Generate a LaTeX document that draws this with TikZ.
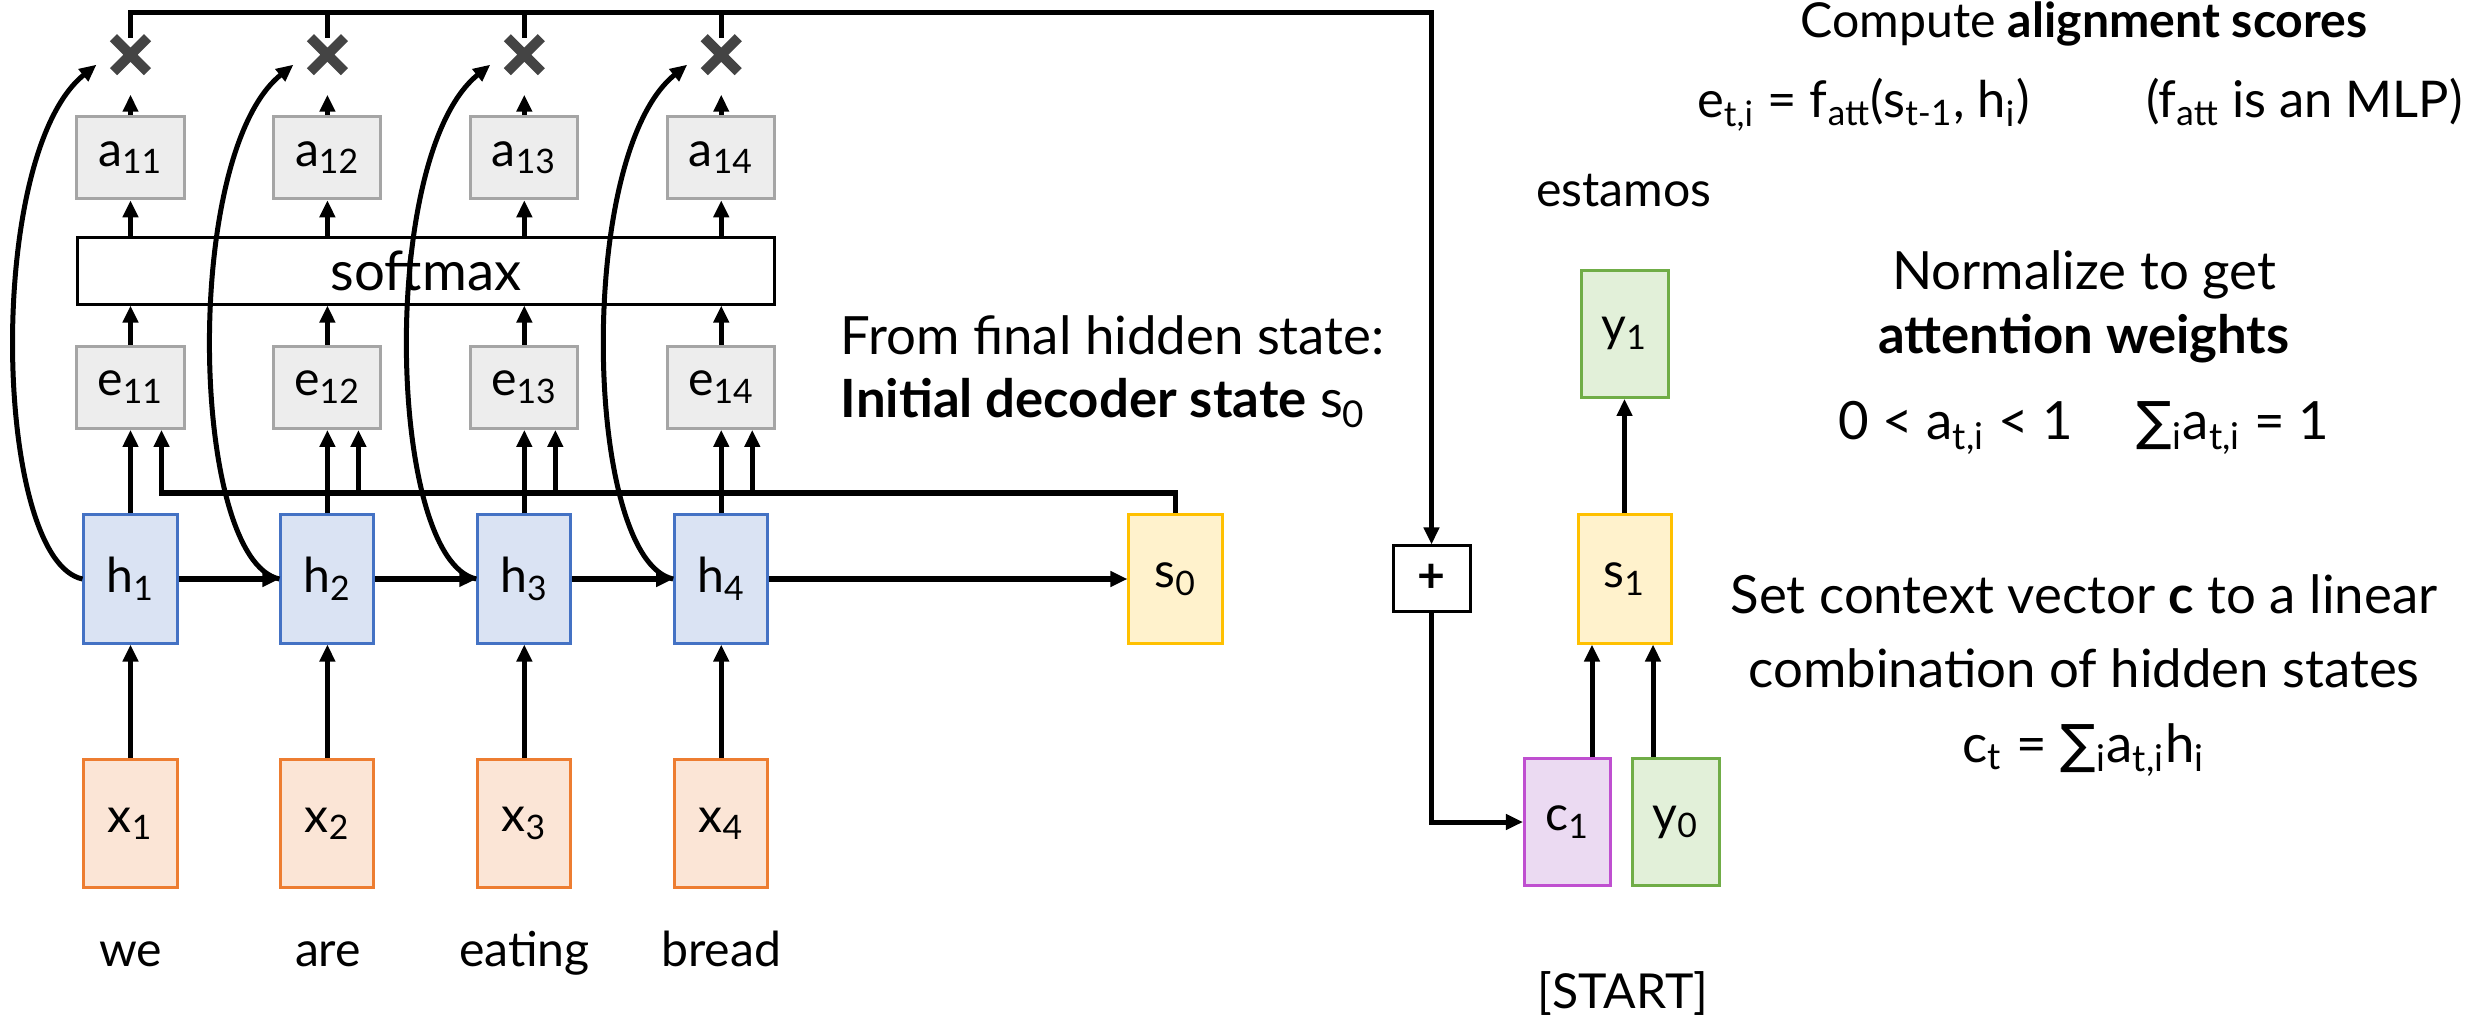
\documentclass[tikz,border=0pt]{standalone}
\usepackage{fontspec}
\setmainfont{Lato}
\newfontfamily\sumfont{DejaVu Sans}
\usetikzlibrary{shapes,arrows,arrows.meta}
\definecolor{hblue}{HTML}{4472C4}
\definecolor{hfill}{HTML}{DAE3F3}
\definecolor{xorange}{HTML}{ED7D31}
\definecolor{xfill}{HTML}{FBE5D6}
\definecolor{egray}{HTML}{A5A5A5}
\definecolor{efill}{HTML}{EDEDED}
\definecolor{syellow}{HTML}{FFC000}
\definecolor{sfill}{HTML}{FFF2CC}
\definecolor{ygreen}{HTML}{70AD47}
\definecolor{yfill}{HTML}{E2F0D9}
\definecolor{cpurple}{HTML}{BF4FD0}
\definecolor{cfill}{HTML}{EBDAF2}
\definecolor{xgray}{HTML}{444444}
\newcommand{\bigtxt}{\fontsize{15}{18}\selectfont}
\tikzstyle{cell} = [rectangle, draw, line width=0.3mm, inner sep=0pt,
    minimum width=0.93cm, minimum height=1.28cm]
\tikzstyle{hcell} = [cell, draw=hblue, fill=hfill]
\tikzstyle{xcell} = [cell, draw=xorange, fill=xfill]
\tikzstyle{ecell} = [cell, draw=egray, fill=efill, minimum width=1.07cm, minimum height=0.82cm]
\tikzstyle{scell} = [cell, draw=syellow, fill=sfill]
\tikzstyle{ycell} = [cell, draw=ygreen, fill=yfill, minimum width=0.87cm, minimum height=1.27cm]
\tikzstyle{ccell} = [cell, draw=cpurple, fill=cfill, minimum width=0.86cm, minimum height=1.26cm]
\tikzstyle{pluscell} = [rectangle, draw, line width=0.3mm, fill=white,
    minimum width=0.77cm, minimum height=0.65cm]
\tikzstyle{mult} = [cross out, draw=xgray, line width=1mm, minimum size=2.4mm, inner sep=0pt]
\tikzstyle{word} = [anchor=base, inner sep=0pt]
\tikzstyle{note} = [word, font=\bigtxt]
\tikzstyle{line} = [draw, line width=0.5mm, -{Triangle[length=1.7mm, width=1.5mm]}]
\tikzstyle{wire} = [draw, line width=0.5mm]

\begin{document}
\begin{tikzpicture}[x=0.01cm, y=-0.01cm, node distance=1.968cm,
    font=\fontsize{13.7}{16}\selectfont]
    \useasboundingbox (0,0) rectangle (2486,1025);
    % Place nodes
    \node [hcell] (h1) at (130.5,579) {h\textsubscript{1}};
    \node [hcell, right of=h1] (h2) {h\textsubscript{2}};
    \node [hcell, right of=h2] (h3) {h\textsubscript{3}};
    \node [hcell, right of=h3] (h4) {h\textsubscript{4}};
    \node [xcell, below of=h1, node distance=2.445cm] (x1) {x\textsubscript{1}};
    \node [xcell, below of=h2, node distance=2.445cm] (x2) {x\textsubscript{2}};
    \node [xcell, below of=h3, node distance=2.445cm] (x3) {x\textsubscript{3}};
    \node [xcell, below of=h4, node distance=2.445cm] (x4) {x\textsubscript{4}};
    \node [ecell, above of=h1, node distance=1.915cm] (e11) {e\textsubscript{11}};
    \node [ecell, above of=h2, node distance=1.915cm] (e12) {e\textsubscript{12}};
    \node [ecell, above of=h3, node distance=1.915cm] (e13) {e\textsubscript{13}};
    \node [ecell, above of=h4, node distance=1.915cm] (e14) {e\textsubscript{14}};
    \node [ecell, above of=e11, node distance=2.295cm] (a11) {a\textsubscript{11}};
    \node [ecell, above of=e12, node distance=2.295cm] (a12) {a\textsubscript{12}};
    \node [ecell, above of=e13, node distance=2.295cm] (a13) {a\textsubscript{13}};
    \node [ecell, above of=e14, node distance=2.295cm] (a14) {a\textsubscript{14}};
    \node [mult, above of=a11, node distance=1.03cm] (m1) {};
    \node [mult, above of=a12, node distance=1.03cm] (m2) {};
    \node [mult, above of=a13, node distance=1.03cm] (m3) {};
    \node [mult, above of=a14, node distance=1.03cm] (m4) {};
    \node [rectangle, draw, line width=0.3mm, minimum width=6.97cm, minimum height=0.66cm,
        font=\fontsize{15.5}{18}\selectfont] (soft) at (426,271) {softmax};
    \node [scell] (s0) at (1175.5,579) {s\textsubscript{0}};
    \node [pluscell] (plus) at (1431.5,578.5) {\textbf{+}};
    \node [scell] (s1) at (1624.5,579) {s\textsubscript{1}};
    \node [ycell, above of=s1, node distance=2.45cm] (y1) {y\textsubscript{1}};
    \node [ccell] (c1) at (1567.5,822) {c\textsubscript{1}};
    \node [ycell] (y0) at (1675.5,822) {y\textsubscript{0}};
    % Words and notes
    \node [word] (w1) at (130.5,966) {we};
    \node [word] (w2) at (328,966) {are};
    \node [word] (w3) at (524.5,966) {eating};
    \node [word] (w4) at (721,966) {bread};
    \node [word] (est) at (1624,207) {estamos};
    \node [word] (start) at (1623,1008) {[START]};
    \node [note, anchor=base west] (from) at (840,355) {From final hidden state:};
    \node [note, anchor=base west] (init) at (840,418) {\textbf{Initial decoder state} s\textsubscript{0}};
    \node [word] (cmp) at (2084,38) {Compute \textbf{alignment scores}};
    \node [word, font=\fontsize{14.4}{17}\selectfont] (eq1) at (2080,118) {e\textsubscript{t,i} = f\textsubscript{att}(s\textsubscript{t-1}, h\textsubscript{i})\hspace{2.3em}(f\textsubscript{att} is an MLP)};
    \node [note] (nrm) at (2084,290) {Normalize to get};
    \node [note] (att) at (2084,354) {\textbf{attention weights}};
    \node [note] (eq2) at (2084,440) {0 < a\textsubscript{t,i} < 1\hspace{1.2em}{\sumfont ∑}\textsubscript{i}a\textsubscript{t,i} = 1};
    \node [note] (ctx) at (2084,613) {Set context vector \textbf{c} to a linear};
    \node [note] (cmb) at (2084,687) {combination of hidden states};
    \node [note] (eq3) at (2084,762) {c\textsubscript{t} = {\sumfont ∑}\textsubscript{i}a\textsubscript{t,i}h\textsubscript{i}};
    \coordinate (top) at (0,13);
    \coordinate (fb) at (0,493);
    \coordinate (in1) at ([xshift=0.31cm]e11.south);
    \coordinate (in2) at ([xshift=0.31cm]e12.south);
    \coordinate (in3) at ([xshift=0.31cm]e13.south);
    \coordinate (in4) at ([xshift=0.31cm]e14.south);
    \coordinate (sin1) at ([xshift=-0.325cm]s1.south);
    \coordinate (sin2) at ([xshift=0.285cm]s1.south);
    % Draw edges
    \path [line] (x1) -- (h1);
    \path [line] (x2) -- (h2);
    \path [line] (x3) -- (h3);
    \path [line] (x4) -- (h4);
    \path [line] (h1) -- (h2);
    \path [line] (h2) -- (h3);
    \path [line] (h3) -- (h4);
    \path [line] (h4) -- (s0);
    \path [line] (h1) -- (e11);
    \path [line] (h2) -- (e12);
    \path [line] (h3) -- (e13);
    \path [line] (h4) -- (e14);
    \path [line] (s0.north) |- (in1 |- fb) -- (in1);
    \path [line] (in2 |- fb) -- (in2);
    \path [line] (in3 |- fb) -- (in3);
    \path [line] (in4 |- fb) -- (in4);
    \path [line] (e11.north) -- (e11.north |- soft.south);
    \path [line] (e12.north) -- (e12.north |- soft.south);
    \path [line] (e13.north) -- (e13.north |- soft.south);
    \path [line] (e14.north) -- (e14.north |- soft.south);
    \path [line] (a11.south |- soft.north) -- (a11.south);
    \path [line] (a12.south |- soft.north) -- (a12.south);
    \path [line] (a13.south |- soft.north) -- (a13.south);
    \path [line] (a14.south |- soft.north) -- (a14.south);
    \path [line, shorten >=2.3mm] (a11) -- (m1);
    \path [line, shorten >=2.3mm] (a12) -- (m2);
    \path [line, shorten >=2.3mm] (a13) -- (m3);
    \path [line, shorten >=2.3mm] (a14) -- (m4);
    \path [line] (h1.west) .. controls +(-89,-19) and +(-112,90) .. ([xshift=-0.34cm, yshift=-0.1cm]m1.center);
    \path [line] (h2.west) .. controls +(-89,-19) and +(-112,90) .. ([xshift=-0.34cm, yshift=-0.1cm]m2.center);
    \path [line] (h3.west) .. controls +(-89,-19) and +(-112,90) .. ([xshift=-0.34cm, yshift=-0.1cm]m3.center);
    \path [line] (h4.west) .. controls +(-89,-19) and +(-112,90) .. ([xshift=-0.34cm, yshift=-0.1cm]m4.center);
    \path [line] (m1.north) |- (top -| plus.north) -- (plus.north);
    \path [wire] (m2.north) -- (m2.north |- top);
    \path [wire] (m3.north) -- (m3.north |- top);
    \path [wire] (m4.north) -- (m4.north |- top);
    \path [line] (plus.south) |- (c1.west);
    \path [line] (c1.north -| sin1) -- (sin1);
    \path [line] (y0.north -| sin2) -- (sin2);
    \path [line] (s1) -- (y1);
\end{tikzpicture}
\end{document}
